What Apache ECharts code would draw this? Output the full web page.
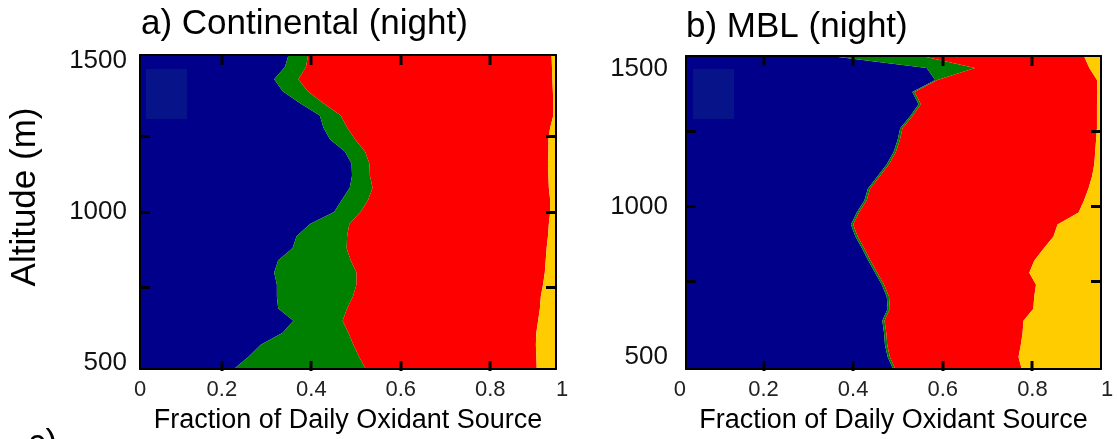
<!DOCTYPE html>
<html>
<head>
<meta charset="utf-8">
<script src="https://cdn.jsdelivr.net/npm/echarts@6/dist/echarts.min.js"></script>
<style>
  html, body { margin: 0; padding: 0; background: #fff; }
  #chart { width: 1117px; height: 439px; }
</style>
</head>
<body>
<div id="chart"></div>
<script>
// altitude levels (m), bottom to top
var altA = [480, 520, 560, 600, 640, 680, 720, 760, 800, 840, 880, 920, 960, 1000,
    1040, 1080, 1120, 1160, 1200, 1240, 1280, 1320, 1360, 1400, 1440, 1480, 1520];
var altB = [460, 500, 540, 580, 620, 660, 700, 740, 780, 820, 860, 900, 940, 980,
    1020, 1060, 1100, 1140, 1180, 1220, 1260, 1300, 1340, 1380, 1420, 1460, 1500];

// a) continental, fraction of daily oxidant source per level
var contBlue = [.227, .259, .287, .336, .360, .326, .323, .323, .317, .326, .358, .367, .397, .451,
    .468, .486, .491, .490, .475, .442, .427, .419, .375, .336, .317, .341, .349];
var contGreen = [.295, .248, .207, .147, .110, .154, .170, .178, .184, .162, .121, .113, .088, .059,
    .059, .051, .040, .040, .045, .056, .053, .047, .052, .056, .054, .047, .044];
var contRed = [.382, .396, .408, .420, .437, .431, .420, .417, .421, .436, .447, .449, .446, .424,
    .407, .394, .399, .399, .410, .432, .454, .475, .514, .548, .568, .550, .544];
var contYellow = [.096, .097, .098, .097, .093, .089, .087, .082, .078, .076, .074, .071, .069, .066,
    .066, .069, .070, .071, .070, .070, .066, .059, .059, .060, .061, .062, .063];

// b) MBL
var mblBlue = [.489, .477, .471, .469, .465, .477, .475, .464, .449, .434, .420, .405, .395, .408,
    .425, .433, .454, .475, .490, .499, .505, .527, .546, .532, .583, .564, .349];
var mblGreen = [.005, .005, .005, .005, .005, .005, .005, .005, .005, .005, .005, .005, .005, .005,
    .005, .005, .005, .005, .005, .005, .005, .005, .005, .005, .005, .108, .204];
var mblRed = [.282, .287, .298, .304, .310, .320, .324, .339, .339, .365, .400, .437, .456, .490,
    .485, .487, .474, .458, .445, .438, .434, .412, .393, .408, .356, .255, .362];
var mblYellow = [.224, .231, .226, .222, .220, .198, .196, .192, .207, .196, .175, .153, .144, .097,
    .085, .075, .067, .062, .060, .058, .056, .056, .056, .055, .056, .073, .085];

var xTicks = [0.2, 0.4, 0.6, 0.8];
var yTicks = [750, 1000, 1250];
var yLabels = [500, 1000, 1500];

var colors = ['#00008B', '#008000', '#FF0000', '#FFCC00'];
var font = '"Liberation Sans", Arial, sans-serif';

var chart = echarts.init(document.getElementById('chart'));

function frameLine() {
    return { show: true, onZero: false, lineStyle: { color: '#000', width: 2 } };
}
function innerTicks(vals) {
    return { show: true, inside: true, length: 10, customValues: vals, lineStyle: { color: '#000', width: 3 } };
}

// x ticks are added as graphic marks after the first render (see below)
function bottomAxis(grid, range, minAlign) {
    return {
        type: 'value', gridIndex: grid, position: 'bottom', min: range[0], max: range[1], zlevel: 1, z: 10,
        axisLine: frameLine(), axisTick: { show: false }, splitLine: { show: false },
        axisLabel: {
            customValues: [range[0]].concat(xTicks, [range[1]]),
            formatter: function (v) { return String(Math.round(v * 5) / 5); },
            margin: 10, fontSize: 22, color: '#222', fontFamily: font,
            alignMinLabel: minAlign, alignMaxLabel: 'left'
        },
        name: 'Fraction of Daily Oxidant Source', nameLocation: 'middle', nameGap: 38,
        nameTextStyle: { fontSize: 27, color: '#000', fontFamily: font }
    };
}
function topAxis(grid, range) {
    return {
        type: 'value', gridIndex: grid, position: 'top', min: range[0], max: range[1], zlevel: 1, z: 10,
        axisLine: frameLine(), axisTick: { show: false },
        axisLabel: { show: false }, splitLine: { show: false }
    };
}
function sideAxis(grid, pos, range, labelGap, topAlign) {
    return {
        type: 'value', gridIndex: grid, position: pos, min: range[0], max: range[1], zlevel: 1, z: 10,
        axisLine: frameLine(), axisTick: innerTicks(yTicks), splitLine: { show: false },
        axisLabel: {
            show: pos === 'left', customValues: yLabels, margin: labelGap,
            formatter: function (v) { return String(v); },
            verticalAlignMaxLabel: topAlign,
            fontSize: 26, color: '#111', fontFamily: font
        }
    };
}

var XA = [0.017, 0.947], XB = [0.027, 0.953];
var YA = [480, 1520], YB = [460, 1500];

function panel(data, xIdx, yIdx) {
    return data.map(function (d, i) {
        return {
            type: 'line', stack: 'p' + xIdx, xAxisIndex: xIdx, yAxisIndex: yIdx,
            data: d, symbol: 'none', smooth: false, silent: true,
            lineStyle: { width: 0 },
            areaStyle: { color: colors[i], opacity: 1 }
        };
    });
}

var grids = [
    { left: 140, top: 55, width: 416, height: 316 },
    { left: 686, top: 56, width: 415, height: 315 }
];

var graphics = [
    { type: 'text', x: 25, y: 197, rotation: Math.PI / 2,
      style: { text: 'Altitude (m)', font: '35px ' + font, fill: '#000', align: 'center', verticalAlign: 'middle' } },
    { type: 'text', x: 28, y: 427,
      style: { text: 'c)', font: '35px ' + font, fill: '#000', align: 'left', verticalAlign: 'top' } },
    { type: 'rect', z: 100, shape: { x: 146, y: 69, width: 41, height: 50 }, style: { fill: '#061389' } },
    { type: 'rect', z: 100, shape: { x: 693, y: 69, width: 41, height: 50 }, style: { fill: '#061389' } }
];

var option = {
    animation: false,
    backgroundColor: '#fff',
    title: [
        { text: 'a) Continental (night)', left: 141, top: 7, padding: 0,
          textStyle: { fontSize: 35, fontWeight: 'normal', color: '#000', fontFamily: font } },
        { text: 'b) MBL (night)', left: 686, top: 10, padding: 0,
          textStyle: { fontSize: 35, fontWeight: 'normal', color: '#000', fontFamily: font } }
    ],
    grid: grids,
    xAxis: [
        bottomAxis(0, XA, 'center'), topAxis(0, XA),
        bottomAxis(1, XB, 'right'), topAxis(1, XB)
    ],
    yAxis: [
        { type: 'category', gridIndex: 0, data: altA, boundaryGap: false, show: false },
        sideAxis(0, 'left', YA, 13, 'middle'), sideAxis(0, 'right', YA, 8, 'middle'),
        { type: 'category', gridIndex: 1, data: altB, boundaryGap: false, show: false },
        sideAxis(1, 'left', YB, 18, 'top'), sideAxis(1, 'right', YB, 8, 'top')
    ],
    series: panel([contBlue, contGreen, contRed, contYellow], 0, 0)
        .concat(panel([mblBlue, mblGreen, mblRed, mblYellow], 2, 3)),
    graphic: graphics
};

chart.setOption(option);

// inward tick marks on the top and bottom frame, placed through the x axis scale
var tickMarks = [];
[[0, grids[0]], [2, grids[1]]].forEach(function (p) {
    var top = p[1].top, bottom = p[1].top + p[1].height;
    xTicks.forEach(function (v) {
        var px = Math.round(chart.convertToPixel({ xAxisIndex: p[0] }, v));
        tickMarks.push(
            { type: 'line', zlevel: 1, z: 20, shape: { x1: px, y1: top, x2: px, y2: top + 10 },
              style: { stroke: '#000', lineWidth: 3 } },
            { type: 'line', zlevel: 1, z: 20, shape: { x1: px, y1: bottom - 10, x2: px, y2: bottom },
              style: { stroke: '#000', lineWidth: 3 } }
        );
    });
});
chart.setOption({ graphic: graphics.concat(tickMarks) });
</script>
</body>
</html>
